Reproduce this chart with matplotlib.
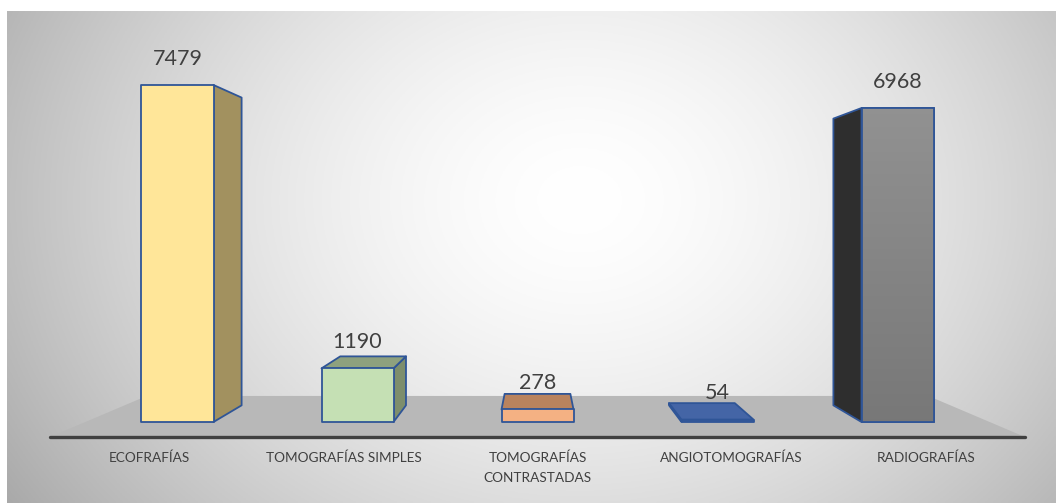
import numpy as np
import matplotlib
matplotlib.use("Agg")
import matplotlib.pyplot as plt
from matplotlib.patches import Polygon

# ---------------- data ----------------
categories = ["ECOFRAFÍAS", "TOMOGRAFÍAS SIMPLES", "TOMOGRAFÍAS\nCONTRASTADAS",
              "ANGIOTOMOGRAFÍAS", "RADIOGRAFÍAS"]
values = [7479, 1190, 278, 54, 6968]
front_colors = ["#FFE699", "#C5E0B4", "#F4B183", "#4868A8", "#888888"]
side_colors = ["#A2915F", "#7D8E6C", "#B9835E", "#3B5A96", "#2E2E2E"]
top_colors = ["#B5A36E", "#8EA17E", "#B9835E", "#4465A6", "#6E6E6E"]
edge_color = "#2F5597"
text_color = "#404040"

# ---------------- layout ----------------
W, H = 1056, 503
PX_PER_CAT = 180.0     # horizontal pixels per category at the bar front plane
CX_PX = 537.5          # vanishing point x (pixels)
Y0_PX = 422.0          # floor line of the bar front plane (pixels from top)
PX_PER_VAL = 0.04506   # pixels per value unit at the bar front plane
HORIZON_PX = 230.0     # horizon (pixels from top)

C0 = (len(categories) - 1) / 2.0
VH = (Y0_PX - HORIZON_PX) / PX_PER_VAL
BAR_HALF = 0.2
K_BACK = 1.095         # depth factor of bar back faces
K_FLOOR_FRONT = 0.9275
K_FLOOR_BACK = 1.157
FLOOR_HALF = 2.512


def proj(c, v, k):
    """Perspective projection: category position c, value v, depth factor k."""
    return (C0 + (c - C0) / k, VH + (v - VH) / k)


fig = plt.figure(figsize=(W / 100, H / 100), dpi=100)
fig.patch.set_facecolor("white")

# background radial gradient of chart area
bg = fig.add_axes([7 / W, 0, 1 - 7 / W, (H - 11) / H])
bg.set_axis_off()
xs = np.linspace(7, W, 400)
ys = np.linspace(11, H, 200)
X, Y = np.meshgrid(xs, ys)
r = np.sqrt(((X - 580) / 560.0) ** 2 + ((Y - 200) / 450.0) ** 2)
g = 255 - 62 * np.clip(r, 0, 1.25) ** 1.6
img = np.dstack([g, g, g]) / 255.0
bg.imshow(img, extent=[0, 1, 0, 1], aspect="auto", origin="upper")
bg.set_xlim(0, 1)
bg.set_ylim(0, 1)
for s in bg.spines.values():
    s.set_visible(True)
    s.set_color("#BEBEBE")
    s.set_linewidth(1.0)

# main axes in data units
ax = fig.add_axes([0, 0, 1, 1])
ax.set_axis_off()
ax.patch.set_visible(False)

# floor
floor = [proj(C0 - FLOOR_HALF, 0, K_FLOOR_FRONT), proj(C0 + FLOOR_HALF, 0, K_FLOOR_FRONT),
         proj(C0 + FLOOR_HALF, 0, K_FLOOR_BACK), proj(C0 - FLOOR_HALF, 0, K_FLOOR_BACK)]
ax.add_patch(Polygon(floor, closed=True, facecolor="#B8B8B8", edgecolor="none", zorder=1))
fl = np.array(floor[:2])
ax.plot(fl[:, 0], fl[:, 1], color="#404040", lw=2.4, solid_capstyle="round", zorder=2)

# bars
for i, (v, fc, sc, tc) in enumerate(zip(values, front_colors, side_colors, top_colors)):
    l, rr = i - BAR_HALF, i + BAR_HALF
    kw = dict(closed=True, edgecolor=edge_color, linewidth=1.3, joinstyle="round", zorder=3)
    if rr < C0:
        side = [proj(rr, 0, 1), proj(rr, v, 1), proj(rr, v, K_BACK), proj(rr, 0, K_BACK)]
        ax.add_patch(Polygon(side, facecolor=sc, **kw))
    if l > C0:
        side = [proj(l, 0, 1), proj(l, v, 1), proj(l, v, K_BACK), proj(l, 0, K_BACK)]
        ax.add_patch(Polygon(side, facecolor=sc, **kw))
    if v < VH:
        top = [proj(l, v, 1), proj(rr, v, 1), proj(rr, v, K_BACK), proj(l, v, K_BACK)]
        ax.add_patch(Polygon(top, facecolor=tc, **kw))
    front = [proj(l, 0, 1), proj(rr, 0, 1), proj(rr, v, 1), proj(l, v, 1)]
    fp = Polygon(front, facecolor=fc, **kw)
    ax.add_patch(fp)
    if i == len(values) - 1:
        # grey gradient on the front face
        grad = np.linspace(0.57, 0.47, 100)[:, None] * np.ones((1, 10))
        im = ax.imshow(np.dstack([grad, grad, grad]), extent=[l, rr, 0, v],
                       aspect="auto", origin="upper", zorder=3.5)
        im.set_clip_path(fp)
        ax.add_patch(Polygon(front, closed=True, facecolor="none", edgecolor=edge_color,
                             linewidth=1.3, zorder=3.6))
    ax.annotate(f"{v}", xy=(i, v), xytext=(0, 19), textcoords="offset points",
                ha="center", va="center", fontsize=15.5, color=text_color,
                family=["Lato", "DejaVu Sans"], zorder=5)

# category labels at floor front edge
for i, cat in enumerate(categories):
    x, y = proj(i, 0, K_FLOOR_FRONT)
    ax.annotate(cat, xy=(x, y), xytext=(0, -10.5), textcoords="offset points",
                ha="center", va="top", fontsize=9.8, color=text_color,
                family=["Lato", "DejaVu Sans"], linespacing=1.75, zorder=5)

ax.set_xlim(C0 - CX_PX / PX_PER_CAT, C0 + (W - CX_PX) / PX_PER_CAT)
ax.set_ylim(-(H - Y0_PX) / PX_PER_VAL, Y0_PX / PX_PER_VAL)

fig.savefig("out.png", dpi=100)
